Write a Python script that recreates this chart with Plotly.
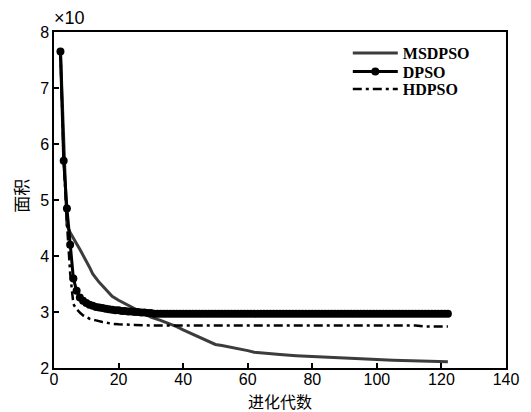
import plotly.graph_objects as go

# 进化代数 vs 面积 (x10)

msdpso_gen = [2, 3, 4, 5, 6, 7, 8, 9, 10, 11, 12, 13, 14, 15, 16, 17, 18, 20, 22, 24, 26, 28, 30,
              33, 36, 38, 40, 43, 45, 48, 50, 52, 55, 58, 60, 62, 65, 70, 75, 80, 85, 90,
              95, 100, 105, 110, 115, 118, 122]
msdpso_area = [7.65, 5.9, 4.55, 4.42, 4.31, 4.22, 4.12, 4.02, 3.92, 3.8, 3.68, 3.6, 3.53, 3.47,
               3.4, 3.33, 3.28, 3.21, 3.15, 3.09, 3.03, 2.97, 2.91, 2.85, 2.79, 2.74, 2.68,
               2.6, 2.55, 2.47, 2.42, 2.40, 2.37, 2.34, 2.31, 2.28, 2.26, 2.24, 2.22, 2.2,
               2.19, 2.18, 2.16, 2.15, 2.14, 2.13, 2.12, 2.12, 2.11]

dpso_gen = list(range(2, 123))
dpso_area = [
    7.65, 5.70, 4.85, 4.20, 3.60, 3.38, 3.26, 3.20, 3.16, 3.13, 3.11, 3.09, 3.08, 3.07,
    3.06, 3.05, 3.04, 3.03, 3.03, 3.02, 3.02, 3.01, 3.01, 3.00, 3.00, 2.99, 2.99, 2.98,
    2.98,
    2.97, 2.97, 2.97, 2.97, 2.97, 2.97, 2.97, 2.97, 2.97, 2.97, 2.97, 2.97, 2.97, 2.97,
    2.97, 2.97, 2.97, 2.97, 2.97, 2.97, 2.97, 2.97, 2.97, 2.97, 2.97, 2.97, 2.97, 2.97,
    2.97, 2.97, 2.97, 2.97, 2.97, 2.97, 2.97, 2.97, 2.97, 2.97, 2.97, 2.97, 2.97, 2.97,
    2.97, 2.97, 2.97, 2.97, 2.97, 2.97, 2.97, 2.97, 2.97, 2.97, 2.97, 2.97, 2.97, 2.97,
    2.97, 2.97, 2.97, 2.97, 2.97, 2.97, 2.97, 2.97, 2.97, 2.97, 2.97, 2.97, 2.97, 2.97,
    2.97, 2.97, 2.97, 2.97, 2.97, 2.97, 2.97, 2.97, 2.97, 2.97, 2.97, 2.97, 2.97, 2.97,
    2.97, 2.97, 2.97, 2.97, 2.97, 2.97, 2.97, 2.97,
]

hdpso_gen = [2, 3, 4, 5, 6, 7, 8, 9, 10, 11, 13, 15, 18, 20, 25, 30, 40, 60, 80, 100, 112, 115, 122]
hdpso_area = [7.65, 5.7, 4.6, 3.7, 3.14, 3.05, 2.99, 2.94, 2.91, 2.88, 2.85, 2.82, 2.79, 2.78,
              2.77, 2.76, 2.76, 2.76, 2.76, 2.76, 2.76, 2.74, 2.74]

x_ticks = [0, 20, 40, 60, 80, 100, 120, 140]
y_ticks = [2, 3, 4, 5, 6, 7, 8]

fig = go.Figure()

fig.add_trace(go.Scatter(x=msdpso_gen, y=msdpso_area, name="MSDPSO", mode="lines",
                         line=dict(color="#3c3c3c", width=3), legend="legend"))
fig.add_trace(go.Scatter(x=dpso_gen, y=dpso_area, name="DPSO", mode="lines+markers",
                         line=dict(color="black", width=3),
                         marker=dict(color="black", size=8), legend="legend2"))
fig.add_trace(go.Scatter(x=hdpso_gen, y=hdpso_area, name="HDPSO", mode="lines",
                         line=dict(color="black", width=2.5, dash="9px,4px,3px,4px"),
                         legend="legend3"))

axis_style = dict(showline=True, linecolor="black", linewidth=1.5, mirror=True,
                  ticks="inside", ticklen=5, tickwidth=1.5, tickcolor="black",
                  showgrid=False, zeroline=False,
                  tickfont=dict(family="Liberation Sans, Arial", size=16, color="black"))

fig.update_xaxes(range=[0, 140], tickvals=x_ticks, ticklabelstandoff=-4, **axis_style)
fig.update_yaxes(range=[2, 8], tickvals=y_ticks, **axis_style)

# axis titles (placed by hand to match the original layout)
fig.add_annotation(text="进化代数", xref="paper", yref="paper", x=0.5, y=-0.097,
                   xanchor="center", yanchor="middle", showarrow=False,
                   font=dict(family="Noto Sans CJK SC", size=16, color="black"))
fig.add_annotation(text="面积", xref="paper", yref="paper", x=-0.073, y=0.513,
                   xanchor="center", yanchor="middle", showarrow=False, textangle=-90,
                   font=dict(family="Noto Sans CJK SC", size=17, color="black"))

fig.add_annotation(text="×10", xref="paper", yref="paper", x=-0.004, y=1.0,
                   xanchor="left", yanchor="bottom", yshift=2, showarrow=False,
                   font=dict(family="Liberation Sans", size=18, color="black"))

legend_style = dict(xanchor="left", yanchor="top", bgcolor="rgba(0,0,0,0)", itemwidth=45,
                    font=dict(family="Liberation Serif", size=16, color="black", weight="bold"))

fig.update_layout(
    width=531, height=412,
    margin=dict(l=54, r=19, t=32, b=44),
    plot_bgcolor="white", paper_bgcolor="white",
    showlegend=True,
    legend=dict(x=0.650, y=0.988, **legend_style),
    legend2=dict(x=0.650, y=0.933, **legend_style),
    legend3=dict(x=0.650, y=0.881, **legend_style),
)

fig.write_html("out.html", config={"displayModeBar": False},
               post_script="document.body.style.margin='0';")
